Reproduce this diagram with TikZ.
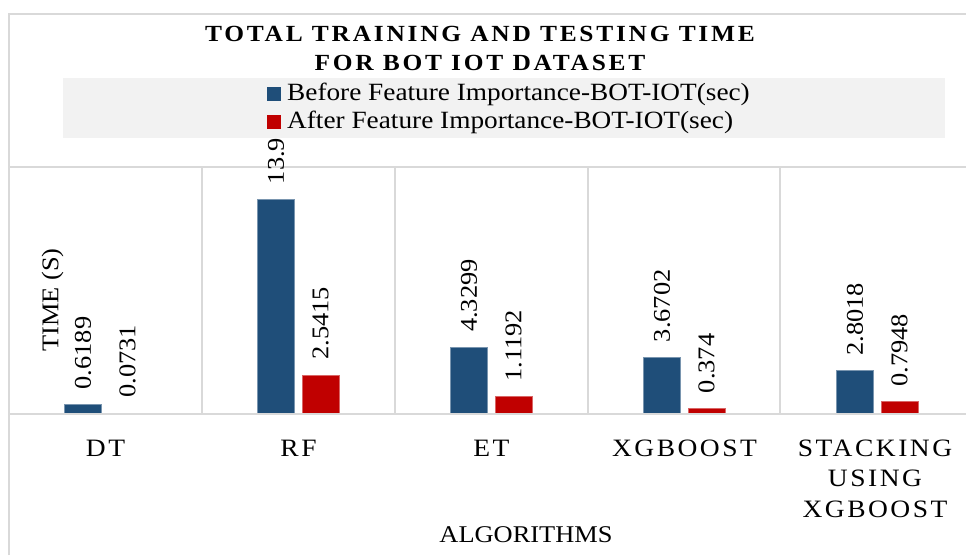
\documentclass[tikz,border=0pt]{standalone}
\usepackage{fontspec}
\setmainfont{Liberation Serif}[FakeStretch=1.1]
\newfontfamily\titlefont{Liberation Serif}[FakeStretch=1.1,LetterSpace=12]
\newfontfamily\catfont{Liberation Serif}[FakeStretch=1.1,LetterSpace=10]
\definecolor{barblue}{RGB}{31,78,121}
\definecolor{barred}{RGB}{192,0,0}
\definecolor{gridgray}{RGB}{217,217,217}
\definecolor{leggray}{RGB}{242,242,242}
\tikzset{
  gridline/.style={draw=gridgray, line width=1.6pt},
  bluebar/.style={fill=barblue, draw=barblue!60!white, line width=0.5pt},
  redbar/.style={fill=barred, draw=barred!60!white, line width=0.5pt},
  vallabel/.style={rotate=90, anchor=west, inner sep=0pt, font=\fontsize{24}{28}\selectfont},
  cattext/.style={anchor=base, inner sep=0pt, font=\catfont\fontsize{25}{31}\selectfont, align=center},
  titletext/.style={anchor=base, inner sep=0pt, font=\titlefont\bfseries\fontsize{23.1}{28}\selectfont},
  legtext/.style={anchor=base west, inner sep=0pt, font=\fontsize{24.8}{28}\selectfont},
  axtitle/.style={inner sep=0pt, font=\fontsize{24}{28}\selectfont}
}
\begin{document}
\begin{tikzpicture}[x=1pt,y=-1pt]
\useasboundingbox (0,0) rectangle (966,555);
\fill[white] (0,0) rectangle (966,555);
% outer frame and grid
\draw[gridline] (9,555) -- (9,14) -- (966,14);
\draw[gridline] (9,167) -- (966,167);
\foreach \x in {202,395,588,780} \draw[gridline] (\x,167) -- (\x,414);
% bars and value labels
\def\ax{414}
\def\sc{15.44}
\foreach \i/\b/\r/\bl/\rl in {0/0.6189/0.0731/0.6189/0.0731, 1/13.9/2.5415/13.9/2.5415, 2/4.3299/1.1192/4.3299/1.1192, 3/3.6702/0.374/3.6702/0.374, 4/2.8018/0.7948/2.8018/0.7948}{
  \pgfmathsetmacro{\c}{105.5+193*\i}
  \pgfmathsetmacro{\bt}{\ax-\b*\sc}
  \pgfmathsetmacro{\rt}{\ax-\r*\sc}
  \draw[bluebar] (\c-41,\ax) rectangle (\c-4,\bt);
  \draw[redbar] (\c+3.5,\ax) rectangle (\c+40.5,\rt);
  \node[vallabel] (vb\i) at (\c-22.5,\bt-15) {\bl};
  \node[vallabel] (vr\i) at (\c+22,\rt-15) {\rl};
}
\draw[gridline] (9,414) -- (966,414);
% category labels
\node[cattext] (cat0) at (105.5,456) {DT};
\node[cattext] (cat1) at (298.5,456) {RF};
\node[cattext] (cat2) at (491.5,456) {ET};
\node[cattext] (cat3) at (684.5,456) {XGBOOST};
\node[cattext] (cat4a) at (875,456) {STACKING};
\node[cattext] (cat4b) at (875,486.5) {USING};
\node[cattext] (cat4c) at (875,517) {XGBOOST};
% axis titles
\node[axtitle, anchor=base] (xt) at (526,542.5) {ALGORITHMS};
\node[axtitle, rotate=90] (yt) at (52.5,300) {TIME (S)};
% title
\node[titletext] (t1) at (480,41.7) {TOTAL TRAINING AND TESTING TIME};
\node[titletext] (t2) at (480,70) {FOR BOT IOT DATASET};
% legend
\fill[leggray] (63,78) rectangle (945,138);
\fill[barblue] (267,87) rectangle (281,101);
\fill[barred] (267,115) rectangle (281,129);
\node[legtext] (l1) at (287,100) {Before Feature Importance-BOT-IOT(sec)};
\node[legtext] (l2) at (287,128.5) {After Feature Importance-BOT-IOT(sec)};
\end{tikzpicture}
\end{document}
